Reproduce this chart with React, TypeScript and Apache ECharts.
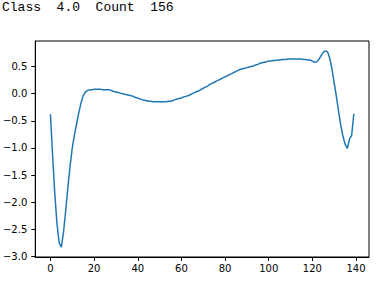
import React, { useEffect, useRef } from "react";
import * as echarts from "echarts";

const titleText = "Class  4.0  Count  156";
const xTicks = [0, 20, 40, 60, 80, 100, 120, 140];
const yTicks = [-3.0, -2.5, -2.0, -1.5, -1.0, -0.5, 0.0, 0.5];
const values = [
  -0.38, -1.15, -1.85, -2.40, -2.75, -2.83, -2.55, -2.15, -1.72, -1.33,
  -1.00, -0.76, -0.55, -0.35, -0.17, -0.04, 0.03, 0.06, 0.07, 0.07,
  0.08, 0.08, 0.08, 0.08, 0.07, 0.07, 0.07, 0.07, 0.06, 0.04,
  0.03, 0.02, 0.01, 0.00, -0.01, -0.02, -0.03, -0.04, -0.05, -0.07,
  -0.08, -0.10, -0.11, -0.12, -0.13, -0.14, -0.14, -0.15, -0.15, -0.15,
  -0.15, -0.15, -0.15, -0.15, -0.14, -0.14, -0.13, -0.11, -0.10, -0.09,
  -0.08, -0.06, -0.05, -0.04, -0.02, 0.00, 0.02, 0.04, 0.05, 0.08,
  0.10, 0.12, 0.14, 0.17, 0.19, 0.21, 0.23, 0.25, 0.27, 0.29,
  0.31, 0.33, 0.35, 0.37, 0.39, 0.41, 0.43, 0.45, 0.46, 0.47,
  0.48, 0.49, 0.50, 0.51, 0.53, 0.54, 0.56, 0.57, 0.58, 0.59,
  0.60, 0.60, 0.61, 0.61, 0.62, 0.62, 0.63, 0.63, 0.63, 0.64,
  0.64, 0.64, 0.64, 0.64, 0.64, 0.64, 0.63, 0.63, 0.62, 0.62,
  0.60, 0.58, 0.59, 0.63, 0.70, 0.76, 0.79, 0.77, 0.65, 0.45,
  0.20, -0.05, -0.32, -0.58, -0.78, -0.93, -1.01, -0.84, -0.77, -0.37,
];

export default function App() {
  const ref = useRef<HTMLDivElement>(null);
  useEffect(() => {
    if (!ref.current) return;
    const chart = echarts.init(ref.current, null, { renderer: "svg" });
    const n = values.length;
    const xmin = 0 - (n - 1) * 0.05;
    const xmax = n - 1 + (n - 1) * 0.05;
    const vmin = Math.min(...values);
    const vmax = Math.max(...values);
    const pad = (vmax - vmin) * 0.05;
    chart.setOption({
      animation: false,
      backgroundColor: "#ffffff",
      title: {
        text: titleText,
        left: 2,
        top: 1,
        padding: 0,
        textStyle: {
          fontFamily: "Liberation Mono",
          fontSize: 13,
          fontWeight: "normal",
          color: "#000000",
        },
      },
      grid: {
        left: 35,
        right: 13,
        top: 41,
        bottom: 25,
        show: true,
        borderColor: "#000000",
        borderWidth: 1,
      },
      xAxis: {
        type: "value",
        min: xmin,
        max: xmax,
        axisLine: { show: true, onZero: false, lineStyle: { color: "#000000", width: 1 } },
        splitLine: { show: false },
        axisTick: {
          show: true,
          inside: false,
          length: 4,
          customValues: xTicks,
          lineStyle: { color: "#000000", width: 1 },
        },
        axisLabel: {
          customValues: xTicks,
          fontFamily: "DejaVu Sans",
          fontSize: 10,
          color: "#000000",
          margin: 6,
        },
      },
      yAxis: {
        type: "value",
        min: vmin - pad,
        max: vmax + pad,
        axisLine: { show: true, onZero: false, lineStyle: { color: "#000000", width: 1 } },
        splitLine: { show: false },
        axisTick: {
          show: true,
          inside: false,
          length: 4,
          customValues: yTicks,
          lineStyle: { color: "#000000", width: 1 },
        },
        axisLabel: {
          customValues: yTicks,
          fontFamily: "DejaVu Sans",
          fontSize: 10,
          color: "#000000",
          margin: 8,
          formatter: (v: number) => v.toFixed(1).replace("-", "\u2212"),
        },
      },
      series: [
        {
          type: "line",
          data: values.map((v, i) => [i, v]),
          showSymbol: false,
          lineStyle: { color: "#1f77b4", width: 1.5 },
        },
      ],
    });
    return () => chart.dispose();
  }, []);
  return (
    <div
      ref={ref}
      style={{ position: "fixed", left: 0, top: 0, width: 382, height: 282 }}
    />
  );
}
